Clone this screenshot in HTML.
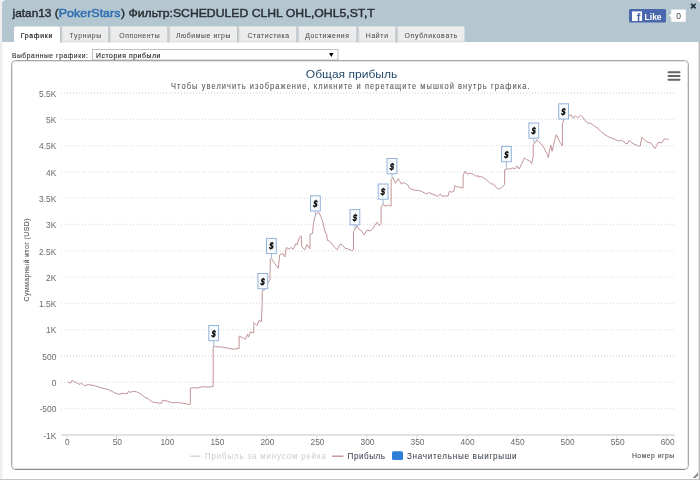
<!DOCTYPE html>
<html><head><meta charset="utf-8"><style>
html,body{margin:0;padding:0;background:#fff;}
body{width:700px;height:480px;overflow:hidden;position:relative;}
svg{position:absolute;left:0;top:0;display:block;will-change:transform;}
text{font-family:"Liberation Sans",sans-serif;}
</style></head><body>
<svg width="700" height="480" viewBox="0 0 700 480">
<rect x="0" y="0" width="700" height="480" fill="#ffffff"/>
<rect x="0" y="0" width="2" height="480" fill="#efefef"/>
<rect x="2" y="0" width="1" height="480" fill="#f8f8f8"/>
<rect x="698" y="42" width="1" height="438" fill="#e0e0e0"/>
<rect x="699" y="42" width="1" height="438" fill="#bebebe"/>
<rect x="0" y="479" width="700" height="1" fill="#c4c4c4"/>
<path d="M2,42 V4 Q2,0 6,0 H696 Q700,0 700,4 V42 Z" fill="#b4c7d0"/>
<g font-size="11.4" stroke-width="0.45">
<text x="12.5" y="16.9" fill="#2b3136" stroke="#2b3136" textLength="46.2" lengthAdjust="spacingAndGlyphs">jatan13 (</text>
<text x="58.8" y="16.9" fill="#2d6db3" stroke="#2d6db3" textLength="61.6" lengthAdjust="spacingAndGlyphs">PokerStars</text>
<text x="121" y="16.9" fill="#2b3136" stroke="#2b3136" textLength="253.8" lengthAdjust="spacingAndGlyphs">) Фильтр:SCHEDULED CLHL OHL,OHL5,ST,T</text></g>
<!-- fb like -->
<rect x="629" y="9" width="37" height="13.6" rx="1.5" fill="#4a67ad"/>
<rect x="632" y="11.4" width="10" height="9.6" fill="#fff"/>
<text x="638.6" y="21" font-size="11" font-weight="bold" fill="#4a67ad" text-anchor="middle">f</text>
<text x="644.6" y="19.6" font-size="9" font-weight="bold" fill="#fff" textLength="17" lengthAdjust="spacingAndGlyphs">Like</text>
<path d="M671,9.2 H686 V22 H671 V17.5 L668.5,15.6 L671,13.7 Z" fill="#fff" stroke="#c5c9cc" stroke-width="0.6"/>
<text x="678.5" y="19.2" font-size="8.5" fill="#444" text-anchor="middle">0</text>
<path d="M691,3.8 L695.6,8.4 M695.6,3.8 L691,8.4" stroke="#1a2a30" stroke-width="1.6"/>
<defs>
<linearGradient id="tabg" x1="0" y1="0" x2="0" y2="1"><stop offset="0" stop-color="#f6f3f0"/><stop offset="0.15" stop-color="#eeeeee"/><stop offset="0.85" stop-color="#ebebeb"/><stop offset="1" stop-color="#e2e2e2"/></linearGradient>
<linearGradient id="tabl" x1="0" y1="0" x2="1" y2="0"><stop offset="0" stop-color="#b4bcc0"/><stop offset="0.45" stop-color="#cfd3d5"/><stop offset="1" stop-color="#ececec" stop-opacity="0"/></linearGradient>
</defs>
<!-- tabs -->
<path d="M14,43 V28.5 Q14,26.6 15.8,26.6 H58.2 Q60,26.6 60,28.5 V43 Z" fill="#ffffff"/><text transform="scale(0.86,1)" x="24.07" y="37.8" font-size="8" fill="#222" stroke="#222" stroke-width="0.2" textLength="36.86" lengthAdjust="spacing">Графики</text><path d="M60,42.4 V27.8 Q60,26.4 61.4,26.4 H106.89999999999999 Q108.3,26.4 108.3,27.8 V42.4 Z" fill="url(#tabg)"/><rect x="60" y="27.2" width="4" height="15.2" fill="url(#tabl)"/><text transform="scale(0.86,1)" x="80.93" y="37.8" font-size="8" fill="#4a4a4a" stroke="#4a4a4a" stroke-width="0.04" textLength="36.86" lengthAdjust="spacing">Турниры</text><path d="M108.3,42.4 V27.8 Q108.3,26.4 109.7,26.4 H166.1 Q167.5,26.4 167.5,27.8 V42.4 Z" fill="url(#tabg)"/><rect x="108.3" y="27.2" width="4" height="15.2" fill="url(#tabl)"/><text transform="scale(0.86,1)" x="138.72" y="37.8" font-size="8" fill="#4a4a4a" stroke="#4a4a4a" stroke-width="0.04" textLength="46.86" lengthAdjust="spacing">Оппоненты</text><path d="M167.5,42.4 V27.8 Q167.5,26.4 168.9,26.4 H235.6 Q237,26.4 237,27.8 V42.4 Z" fill="url(#tabg)"/><rect x="167.5" y="27.2" width="4" height="15.2" fill="url(#tabl)"/><text transform="scale(0.86,1)" x="204.65" y="37.8" font-size="8" fill="#4a4a4a" stroke="#4a4a4a" stroke-width="0.04" textLength="63.26" lengthAdjust="spacing">Любимые игры</text><path d="M237,42.4 V27.8 Q237,26.4 238.4,26.4 H295.1 Q296.5,26.4 296.5,27.8 V42.4 Z" fill="url(#tabg)"/><rect x="237" y="27.2" width="4" height="15.2" fill="url(#tabl)"/><text transform="scale(0.86,1)" x="287.67" y="37.8" font-size="8" fill="#4a4a4a" stroke="#4a4a4a" stroke-width="0.04" textLength="48.37" lengthAdjust="spacing">Статистика</text><path d="M296.5,42.4 V27.8 Q296.5,26.4 297.9,26.4 H355.1 Q356.5,26.4 356.5,27.8 V42.4 Z" fill="url(#tabg)"/><rect x="296.5" y="27.2" width="4" height="15.2" fill="url(#tabl)"/><text transform="scale(0.86,1)" x="354.88" y="37.8" font-size="8" fill="#4a4a4a" stroke="#4a4a4a" stroke-width="0.04" textLength="50.93" lengthAdjust="spacing">Достижения</text><path d="M356.5,42.4 V27.8 Q356.5,26.4 357.9,26.4 H394.1 Q395.5,26.4 395.5,27.8 V42.4 Z" fill="url(#tabg)"/><rect x="356.5" y="27.2" width="4" height="15.2" fill="url(#tabl)"/><text transform="scale(0.86,1)" x="425.35" y="37.8" font-size="8" fill="#4a4a4a" stroke="#4a4a4a" stroke-width="0.04" textLength="25.81" lengthAdjust="spacing">Найти</text><path d="M395.5,42.4 V27.8 Q395.5,26.4 396.9,26.4 H463.1 Q464.5,26.4 464.5,27.8 V42.4 Z" fill="url(#tabg)"/><rect x="395.5" y="27.2" width="4" height="15.2" fill="url(#tabl)"/><text transform="scale(0.86,1)" x="470.35" y="37.8" font-size="8" fill="#4a4a4a" stroke="#4a4a4a" stroke-width="0.04" textLength="61.28" lengthAdjust="spacing">Опубликовать</text>
<!-- select row -->
<text transform="scale(0.86,1)" x="13.84" y="57.8" font-size="7.8" fill="#333" stroke="#333" stroke-width="0.15" textLength="88.37" lengthAdjust="spacing">Выбранные графики:</text>
<rect x="92.5" y="49.5" width="245.5" height="10.8" fill="#fff" stroke="#c0c0c0" stroke-width="1"/>
<line x1="92" y1="60.3" x2="338" y2="60.3" stroke="#808080" stroke-width="1"/>
<text transform="scale(0.86,1)" x="111.63" y="58" font-size="8" fill="#111" stroke="#111" stroke-width="0.1" textLength="74.88" lengthAdjust="spacing">История прибыли</text>
<path d="M329,53 H333.6 L331.3,57 Z" fill="#000"/>
<!-- chart box -->
<rect x="11.5" y="60.5" width="677" height="409" rx="4" fill="#fff" stroke="#a8a8a8" stroke-width="1"/>
<rect x="12.5" y="61.5" width="675" height="407" rx="3" fill="none" stroke="#e2e2e2" stroke-width="1"/>
<line x1="15" y1="469.5" x2="685" y2="469.5" stroke="#8a8a8a" stroke-width="1"/>
<!-- hamburger -->
<g stroke="#666" stroke-width="2" stroke-linecap="round"><line x1="668.5" y1="72.3" x2="679.5" y2="72.3"/><line x1="668.5" y1="76.1" x2="679.5" y2="76.1"/><line x1="668.5" y1="79.8" x2="679.5" y2="79.8"/></g>
<!-- titles -->
<text x="305.8" y="78" font-size="11.2" fill="#274b6d" textLength="91.4" lengthAdjust="spacingAndGlyphs">Общая прибыль</text>
<text transform="scale(0.88,1)" x="194.32" y="89.3" font-size="8.5" fill="#5a5a5a" stroke="#5a5a5a" stroke-width="0.08" textLength="407.39" lengthAdjust="spacing">Чтобы увеличить изображение, кликните и перетащите мышкой внутрь графика.</text>
<!-- grid -->
<g stroke="#e0e0e0" stroke-width="1.3" stroke-dasharray="1,2"><line x1="61" y1="408.6" x2="675" y2="408.6" /><line x1="61" y1="382.3" x2="675" y2="382.3" /><line x1="61" y1="356.0" x2="675" y2="356.0" /><line x1="61" y1="329.7" x2="675" y2="329.7" /><line x1="61" y1="303.4" x2="675" y2="303.4" /><line x1="61" y1="277.1" x2="675" y2="277.1" /><line x1="61" y1="250.8" x2="675" y2="250.8" /><line x1="61" y1="224.5" x2="675" y2="224.5" /><line x1="61" y1="198.2" x2="675" y2="198.2" /><line x1="61" y1="171.9" x2="675" y2="171.9" /><line x1="61" y1="145.6" x2="675" y2="145.6" /><line x1="61" y1="119.3" x2="675" y2="119.3" /><line x1="61" y1="93.0" x2="675" y2="93.0" /></g>
<line x1="61.5" y1="434.9" x2="675" y2="434.9" stroke="#e2e2e2" stroke-width="2"/>
<g stroke="#dedede" stroke-width="1"><line x1="66.5" y1="435" x2="66.5" y2="440"/><line x1="116.5" y1="435" x2="116.5" y2="440"/><line x1="166.6" y1="435" x2="166.6" y2="440"/><line x1="216.6" y1="435" x2="216.6" y2="440"/><line x1="266.6" y1="435" x2="266.6" y2="440"/><line x1="316.7" y1="435" x2="316.7" y2="440"/><line x1="366.7" y1="435" x2="366.7" y2="440"/><line x1="416.7" y1="435" x2="416.7" y2="440"/><line x1="466.8" y1="435" x2="466.8" y2="440"/><line x1="516.8" y1="435" x2="516.8" y2="440"/><line x1="566.8" y1="435" x2="566.8" y2="440"/><line x1="616.9" y1="435" x2="616.9" y2="440"/><line x1="666.9" y1="435" x2="666.9" y2="440"/></g>
<g font-size="8.4" fill="#6a6a6a"><text x="56.3" y="438.6" text-anchor="end">-1K</text><text x="56.3" y="412.3" text-anchor="end">-500</text><text x="56.3" y="386.0" text-anchor="end">0</text><text x="56.3" y="359.7" text-anchor="end">500</text><text x="56.3" y="333.4" text-anchor="end">1K</text><text x="56.3" y="307.1" text-anchor="end">1.5K</text><text x="56.3" y="280.8" text-anchor="end">2K</text><text x="56.3" y="254.5" text-anchor="end">2.5K</text><text x="56.3" y="228.2" text-anchor="end">3K</text><text x="56.3" y="201.9" text-anchor="end">3.5K</text><text x="56.3" y="175.6" text-anchor="end">4K</text><text x="56.3" y="149.3" text-anchor="end">4.5K</text><text x="56.3" y="123.0" text-anchor="end">5K</text><text x="56.3" y="96.7" text-anchor="end">5.5K</text><text x="67.3" y="444.5" text-anchor="middle">0</text><text x="117.3" y="444.5" text-anchor="middle">50</text><text x="167.4" y="444.5" text-anchor="middle">100</text><text x="217.4" y="444.5" text-anchor="middle">150</text><text x="267.4" y="444.5" text-anchor="middle">200</text><text x="317.5" y="444.5" text-anchor="middle">250</text><text x="367.5" y="444.5" text-anchor="middle">300</text><text x="417.5" y="444.5" text-anchor="middle">350</text><text x="467.6" y="444.5" text-anchor="middle">400</text><text x="517.6" y="444.5" text-anchor="middle">450</text><text x="567.6" y="444.5" text-anchor="middle">500</text><text x="617.7" y="444.5" text-anchor="middle">550</text><text x="667.7" y="444.5" text-anchor="middle">600</text></g>
<text transform="translate(29.4,260) rotate(-90) scale(0.88,1)" text-anchor="middle" font-size="8" fill="#5a5a5a" stroke="#5a5a5a" stroke-width="0.1" textLength="94.3" lengthAdjust="spacing">Суммарный итог (USD)</text>
<!-- series -->
<polyline points="67.9,382.1 70.7,383.1 72.1,380.4 74.3,381.7 80,384.6 81.4,382.9 84.3,385.7 88.6,384.6 94.3,385.7 97.1,386.4 102.9,388.3 108.6,389.6 114.3,392.6 118.6,394.3 120,394 124.2,393.3 127.1,394 128.4,391.2 130,392.4 133.5,391.25 136.7,391.9 140.8,394 145,397.5 147.1,398.1 152.3,401.9 157.5,402.9 161.7,403.3 162.7,400.2 167.9,401.25 173.1,402.9 177.3,402.3 179.4,402.9 183.5,403.3 188.75,404.4 190.3,404.4 190.3,388.3 194,387.7 197.1,388.1 200.2,387.1 204.4,386.7 207.5,387.1 211.7,386.7 213.2,386.7 213.2,346.7 215.8,346.7 222.5,347.1 232.9,349.2 239.1,348.5 239.1,336 243.3,338.1 245.4,339.2 247.5,334 248.5,337.1 250.6,331.9 253.8,332.9 253.8,322.5 256.9,325.6 259,320.4 261.4,321.5 262.2,303.75 262.2,291.25 265.2,289.2 268.3,281.9 269.9,279.8 270.4,259.2 271.5,258.4 274.6,263.3 278.3,268.2 279.7,254.8 282.6,253.3 284.8,257 286.3,247.5 289.2,249 291.4,247.5 293.1,249.5 295.8,243.8 297.2,244.6 299.4,237.3 301.2,235.8 301.8,246.7 304.8,249.8 306.9,244.6 310,248.75 310,234.2 312.5,233.5 313.5,223.3 315.1,216 316.7,213.4 318.2,212.4 319.3,213 320.8,216.5 322.5,220.6 324.6,230 325.6,233 326.6,234.2 327.4,240.4 329.8,241.2 331.9,244 335,247.7 337.1,249.8 340.3,244 342.6,245.2 344.9,248.2 348.3,249.1 351.8,250.5 353.5,249.8 353.5,231.4 355.2,229.1 357,225.7 358.7,229.1 361,230.3 364.4,234.9 366.7,230.3 370.1,230.7 372.4,229.1 374.7,225.7 377,222.2 379.3,225.7 381.1,223.4 381.1,207.3 383.2,203.9 385,206.2 388.5,205 391.1,206.2 391.1,179.8 393.1,177.5 395.4,183.3 398.3,178.7 401.4,184 403.1,182.6 405.7,183.6 407.9,185 409.3,188.3 411.4,189.3 414.3,190 418.6,190.4 421.4,191.4 424.3,192.9 426.4,194 428.6,192.6 431.4,193.6 435,195 437.9,196.4 440,194.3 442.9,196.4 445.7,195.7 447.9,196.4 449.3,191.4 451.4,192.1 453.6,191.4 455,185.4 456.4,186.9 458.6,186.9 460.7,187.4 463.1,187.9 463.1,175.7 465,171.4 466,172.1 467.4,174.6 468.6,173.1 471.4,173.6 474.3,175 476.4,176.4 477.9,175.4 478.6,177.1 480.7,176.4 483.6,177.9 486.4,179.7 489.3,182.6 491.4,184 493.6,184 496.25,187.7 499.4,189.2 501.5,187.7 504.6,184.6 504.6,170 506.7,169 509.8,169 512.9,167.9 515,169 517.1,165.8 519.2,169 521.25,164.8 524.4,157.9 526.5,159.6 529.6,160.6 531.7,163.75 533.2,156.5 533.2,145 534.8,142.9 536.9,139.8 539,141.9 541,144 543.1,146 545.2,150.2 547.3,154.4 548.3,157.5 549.4,151.25 550.8,145 552.1,151.25 554.6,140.8 556.25,134.6 558.3,138.75 559.8,141.9 562.4,146 562.4,124.2 564,119 566,116.9 569.2,115.8 571.25,114.8 573.3,118.3 575.4,115.8 577.5,117.9 580.6,115.2 582.7,116.9 585,120.7 587.9,123.1 590.7,123.3 593.6,125.4 597.1,127.9 600.7,131.1 605,134.7 608.6,136.9 612.1,138.3 615.7,139.7 618.6,140.9 620.7,140.3 623.6,141.7 627.1,144 629.3,140.3 631.4,142.6 635,144.6 638.6,146 640.3,146 641.7,137.4 644.3,139.7 647.1,142.1 649.3,142.6 651.1,143.1 652.9,145.7 655,148.6 656.4,146.4 657.9,142.9 660,142.3 661.7,143.1 664.3,138.9 666.4,139 668.9,139.4" fill="none" stroke="#c29498" stroke-width="1" stroke-linejoin="round"/>
<line x1="213.8" y1="340.7" x2="213.8" y2="346.7" stroke="#a2b8d4" stroke-width="1"/><rect x="208.8" y="325.5" width="9.8" height="15.2" fill="#f7fbfe" stroke="#93b2da" stroke-width="1"/><text transform="translate(213.2,336.5) skewX(-10) scale(0.8,1)" text-anchor="middle" font-size="9.6" font-weight="bold" fill="#000" stroke="#000" stroke-width="0.3">$</text><line x1="262.8" y1="288.7" x2="262.8" y2="291.0" stroke="#a2b8d4" stroke-width="1"/><rect x="257.9" y="273.5" width="9.8" height="15.2" fill="#f7fbfe" stroke="#93b2da" stroke-width="1"/><text transform="translate(262.2,284.5) skewX(-10) scale(0.8,1)" text-anchor="middle" font-size="9.6" font-weight="bold" fill="#000" stroke="#000" stroke-width="0.3">$</text><line x1="271.4" y1="253.6" x2="271.4" y2="258.5" stroke="#a2b8d4" stroke-width="1"/><rect x="266.5" y="238.4" width="9.8" height="15.2" fill="#f7fbfe" stroke="#93b2da" stroke-width="1"/><text transform="translate(270.8,249.4) skewX(-10) scale(0.8,1)" text-anchor="middle" font-size="9.6" font-weight="bold" fill="#000" stroke="#000" stroke-width="0.3">$</text><line x1="315.4" y1="211.0" x2="315.4" y2="216.0" stroke="#a2b8d4" stroke-width="1"/><rect x="310.5" y="195.8" width="9.8" height="15.2" fill="#f7fbfe" stroke="#93b2da" stroke-width="1"/><text transform="translate(314.8,206.8) skewX(-10) scale(0.8,1)" text-anchor="middle" font-size="9.6" font-weight="bold" fill="#000" stroke="#000" stroke-width="0.3">$</text><line x1="354.9" y1="224.8" x2="354.9" y2="229.0" stroke="#a2b8d4" stroke-width="1"/><rect x="350.0" y="209.6" width="9.8" height="15.2" fill="#f7fbfe" stroke="#93b2da" stroke-width="1"/><text transform="translate(354.3,220.6) skewX(-10) scale(0.8,1)" text-anchor="middle" font-size="9.6" font-weight="bold" fill="#000" stroke="#000" stroke-width="0.3">$</text><line x1="383.1" y1="199.2" x2="383.1" y2="204.0" stroke="#a2b8d4" stroke-width="1"/><rect x="378.2" y="184.0" width="9.8" height="15.2" fill="#f7fbfe" stroke="#93b2da" stroke-width="1"/><text transform="translate(382.5,195.0) skewX(-10) scale(0.8,1)" text-anchor="middle" font-size="9.6" font-weight="bold" fill="#000" stroke="#000" stroke-width="0.3">$</text><line x1="392.0" y1="173.7" x2="392.0" y2="178.0" stroke="#a2b8d4" stroke-width="1"/><rect x="387.1" y="158.5" width="9.8" height="15.2" fill="#f7fbfe" stroke="#93b2da" stroke-width="1"/><text transform="translate(391.4,169.5) skewX(-10) scale(0.8,1)" text-anchor="middle" font-size="9.6" font-weight="bold" fill="#000" stroke="#000" stroke-width="0.3">$</text><line x1="506.4" y1="161.7" x2="506.4" y2="169.0" stroke="#a2b8d4" stroke-width="1"/><rect x="501.5" y="146.5" width="9.8" height="15.2" fill="#f7fbfe" stroke="#93b2da" stroke-width="1"/><text transform="translate(505.8,157.5) skewX(-10) scale(0.8,1)" text-anchor="middle" font-size="9.6" font-weight="bold" fill="#000" stroke="#000" stroke-width="0.3">$</text><line x1="533.8" y1="138.2" x2="533.8" y2="143.0" stroke="#a2b8d4" stroke-width="1"/><rect x="528.9" y="123.0" width="9.8" height="15.2" fill="#f7fbfe" stroke="#93b2da" stroke-width="1"/><text transform="translate(533.2,134.0) skewX(-10) scale(0.8,1)" text-anchor="middle" font-size="9.6" font-weight="bold" fill="#000" stroke="#000" stroke-width="0.3">$</text><line x1="563.6" y1="119.0" x2="563.6" y2="119.5" stroke="#a2b8d4" stroke-width="1"/><rect x="558.7" y="103.8" width="9.8" height="15.2" fill="#f7fbfe" stroke="#93b2da" stroke-width="1"/><text transform="translate(563.0,114.8) skewX(-10) scale(0.8,1)" text-anchor="middle" font-size="9.6" font-weight="bold" fill="#000" stroke="#000" stroke-width="0.3">$</text>
<!-- legend -->
<line x1="190.3" y1="456.2" x2="200.6" y2="456.2" stroke="#d0d0d0" stroke-width="1.3"/>
<text transform="scale(0.92,1)" x="222.83" y="459" font-size="8.6" fill="#cccccc" textLength="131.52" lengthAdjust="spacing">Прибыль за минусом рейка</text>
<line x1="332" y1="456.2" x2="343.4" y2="456.2" stroke="#c08a8a" stroke-width="1.3"/>
<text transform="scale(0.95,1)" x="365.89" y="459" font-size="8.6" fill="#3c4650" stroke="#3c4650" stroke-width="0.05" textLength="39.37" lengthAdjust="spacing">Прибыль</text>
<rect x="392" y="451.2" width="11" height="8.8" rx="1.5" fill="#2f7ed8"/>
<text transform="scale(0.95,1)" x="428.42" y="459" font-size="8.6" fill="#3c4650" stroke="#3c4650" stroke-width="0.05" textLength="115.47" lengthAdjust="spacing">Значительные выигрыши</text>
<text transform="scale(0.86,1)" x="734.88" y="458" font-size="7.8" fill="#555" stroke="#555" stroke-width="0.15" textLength="49.07" lengthAdjust="spacing">Номер игры</text>
<!-- resize grip -->
<path d="M692.6,478 L698,472.6 L698,475.6 L695.6,478 Z" fill="#8a8a8a"/>
</svg>
</body></html>
